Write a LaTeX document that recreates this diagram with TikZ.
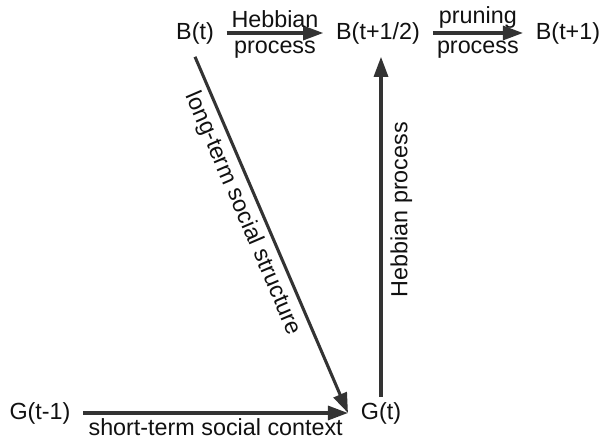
\documentclass[tikz,border=0pt]{standalone}
\usepackage{fontspec}
\setmainfont{Liberation Sans}
\usetikzlibrary{arrows.meta}
\definecolor{arr}{HTML}{333333}
\definecolor{txt}{HTML}{111111}
\begin{document}
\begin{tikzpicture}[x=0.75pt,y=-0.75pt,
  every node/.style={font=\fontsize{17.5}{20}\selectfont, text=txt},
  state/.style={inner xsep=9.5pt, inner ysep=4pt, anchor=center},
  topstate/.style={state, inner ysep=9.5pt},
  conn/.style={draw=arr, line width=2.3pt, -{Triangle[length=15pt,width=10.5pt]}},
  lab/.style={inner sep=2.5pt}
]
\useasboundingbox (0,0) rectangle (602,441);
\node[topstate] (bt) at (195,33) {B(t)};
\node[topstate] (bh) at (378,33) {B(t+1/2)};
\node[topstate] (bn) at (568,33) {B(t+1)};
\node[state] (gp) at (40,413) {G(t-1)};
\node[state] (gt) at (381,413) {G(t)};

\draw[conn] (bt) -- (bh)
  node[lab, midway, above] {Hebbian}
  node[lab, midway, below, inner sep=5pt] {process};
\draw[conn] (bh) -- (bn)
  node[lab, midway, above] {pruning}
  node[lab, midway, below, inner sep=5pt] {process};
\draw[conn] (gp) -- (gt)
  node[lab, midway, below, inner sep=3pt] {short-term social context};
\draw[conn] (bt.south) -- (gt.west)
  node[lab, pos=0.42, sloped, below, inner sep=4pt] {long-term social structure};
\draw[conn] (gt.north) -- (gt.north |- bh.south)
  node[lab, pos=0.55, sloped, below, inner sep=6pt] {Hebbian process};
\end{tikzpicture}
\end{document}
